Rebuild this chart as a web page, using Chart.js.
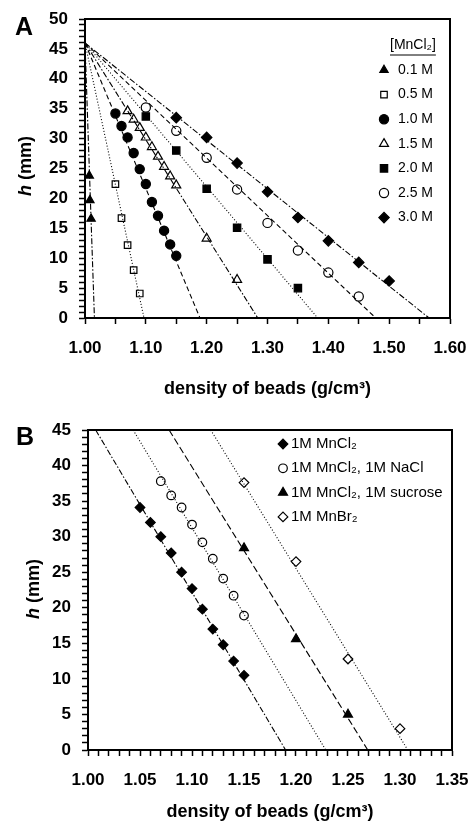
<!DOCTYPE html>
<html>
<head>
<meta charset="utf-8">
<script src="https://cdn.jsdelivr.net/npm/chart.js@4.4.1/dist/chart.umd.min.js"></script>
<style>
  html, body { margin: 0; padding: 0; background: #fff; }
  #page { position: relative; width: 473px; height: 823px; overflow: hidden; font-family: "Liberation Sans", Arial, sans-serif; color: #000; }
  .panel { position: absolute; left: 0; width: 473px; }
  .panel canvas { display: block; }
  .tag { position: absolute; font-weight: bold; font-size: 25px; line-height: 1; transform: translate(-50%, -50%); }
  .ytitle { position: absolute; font-weight: bold; font-size: 18px; line-height: 1; white-space: nowrap; transform: translate(-50%, -50%) rotate(-90deg); }
</style>
</head>
<body>
<div id="page">
  <div class="panel" style="top:0;height:411px"><canvas id="chartA" width="473" height="411"></canvas></div>
  <div class="panel" style="top:411px;height:412px"><canvas id="chartB" width="473" height="412"></canvas></div>
  <div class="tag" style="left:24px;top:26px">A</div>
  <div class="tag" style="left:25px;top:436px">B</div>
  <div class="ytitle" style="left:25px;top:166px"><i>h</i> (mm)</div>
  <div class="ytitle" style="left:33px;top:589px"><i>h</i> (mm)</div>
</div>
<script>
const FONT = '"Liberation Sans", Arial, sans-serif';

// panel A: bead density vs height, by MnCl2 concentration
const labelsA = ["0.1 M", "0.5 M", "1.0 M", "1.5 M", "2.0 M", "2.5 M", "3.0 M"];
const x01 = [1.007, 1.008, 1.010];
const h01 = [23.8, 19.7, 16.6];
const x05 = [1.05, 1.06, 1.07, 1.08, 1.09];
const h05 = [22.4, 16.7, 12.2, 8.0, 4.1];
const x10 = [1.05, 1.06, 1.07, 1.08, 1.09, 1.10, 1.11, 1.12, 1.13, 1.14, 1.15];
const h10 = [34.2, 32.1, 30.2, 27.6, 24.9, 22.4, 19.4, 17.1, 14.6, 12.3, 10.4];
const x15 = [1.07, 1.08, 1.09, 1.10, 1.11, 1.12, 1.13, 1.14, 1.15, 1.20, 1.25];
const h15 = [34.6, 33.2, 31.8, 30.2, 28.6, 27.0, 25.3, 23.7, 22.2, 13.3, 6.4];
const x20 = [1.10, 1.15, 1.20, 1.25, 1.30, 1.35];
const h20 = [33.7, 28.0, 21.6, 15.1, 9.8, 5.0];
const x25 = [1.10, 1.15, 1.20, 1.25, 1.30, 1.35, 1.40, 1.45];
const h25 = [35.2, 31.3, 26.8, 21.5, 15.9, 11.3, 7.6, 3.6];
const x30 = [1.15, 1.20, 1.25, 1.30, 1.35, 1.40, 1.45, 1.50];
const h30 = [33.5, 30.2, 25.9, 21.1, 16.8, 12.9, 9.3, 6.2];
// fitted lines: common start, x-intercepts at h = 0
const fitStartA = { x: 1.00, y: 46 };
const fitZeroA = [1.0155, 1.097, 1.189, 1.284, 1.3825, 1.478, 1.5656];

// panel B: 1 M solutions with additives
const labelsB = ["1M MnCl₂", "1M MnCl₂, 1M NaCl", "1M MnCl₂, 1M sucrose", "1M MnBr₂"];
const xB1 = [1.05, 1.06, 1.07, 1.08, 1.09, 1.10, 1.11, 1.12, 1.13, 1.14, 1.15];
const hB1 = [34.1, 32.0, 30.0, 27.7, 25.0, 22.7, 19.8, 17.0, 14.8, 12.5, 10.5];
const xB2 = [1.07, 1.08, 1.09, 1.10, 1.11, 1.12, 1.13, 1.14, 1.15];
const hB2 = [37.8, 35.8, 34.1, 31.7, 29.2, 26.9, 24.1, 21.7, 18.9];
const xB3 = [1.15, 1.20, 1.25];
const hB3 = [28.4, 15.6, 5.0];
const xB4 = [1.15, 1.20, 1.25, 1.30];
const hB4 = [37.6, 26.5, 12.8, 3.0];
// fitted lines: x where they cross the top (h = 45) and the bottom (h = 0)
const fitTopB = [1.0074, 1.0434, 1.078, 1.118];
const fitZeroB = [1.190, 1.2286, 1.269, 1.3075];

const DOTTED = [1, 2];
const DASHED = [5, 3];
const DASHDOT = [6, 2, 1.5, 2];
const LONGDASH = [7, 3];

const toPts = (xs, ys) => xs.map((x, i) => ({ x: x, y: ys[i] }));

function markers(label, xs, ys, style, radius, filled) {
    return {
        label: label,
        data: toPts(xs, ys),
        showLine: false,
        pointStyle: style,
        pointRadius: radius,
        pointHoverRadius: radius,
        pointBackgroundColor: filled ? "#000" : "rgba(0,0,0,0)",
        pointBorderColor: "#000",
        pointBorderWidth: 1.2,
        backgroundColor: filled ? "#000" : "rgba(0,0,0,0)",
        borderColor: "#000",
        borderWidth: 1.2,
        order: 0,
    };
}

function fitLine(p0, p1, dash) {
    return {
        data: [p0, p1],
        showLine: true,
        pointRadius: 0,
        borderColor: "#000",
        borderWidth: 1.1,
        borderDash: dash,
        order: 1,
    };
}

function xAxis(min, max, step, every, height, titlePad) {
    return {
        type: "linear",
        position: "bottom",
        min: min,
        max: max,
        ticks: {
            stepSize: step,
            autoSkip: false,
            maxRotation: 0,
            minRotation: 0,
            padding: 14,
            color: "#000",
            font: { family: FONT, size: 17, weight: "bold" },
            callback: (v) => (Math.round(v * 100) % every === 0 ? v.toFixed(2) : ""),
        },
        grid: { drawOnChartArea: false, tickLength: 6, tickColor: "#000", tickWidth: 1.5 },
        border: { color: "#000", width: 2 },
        title: {
            display: true,
            text: "density of beads (g/cm³)",
            color: "#000",
            font: { family: FONT, size: 18, weight: "bold" },
            padding: { top: 0, bottom: titlePad },
        },
        afterFit: (s) => {
            s.height = height;
            s.paddingLeft = 0;
            s.paddingRight = 0;
        },
    };
}

function yAxis(max, width) {
    return {
        type: "linear",
        min: 0,
        max: max,
        ticks: {
            stepSize: 1,
            autoSkip: false,
            padding: 11,
            color: "#000",
            font: { family: FONT, size: 17, weight: "bold" },
            callback: (v) => (v % 5 === 0 ? v : ""),
        },
        grid: { drawOnChartArea: false, tickLength: 6, tickColor: "#000", tickWidth: 1.5 },
        border: { color: "#000", width: 2 },
        afterFit: (s) => {
            s.width = width;
            s.paddingTop = 0;
            s.paddingBottom = 0;
        },
    };
}

// box round the plot area
const frame = {
    id: "frame",
    beforeDatasetsDraw(chart) {
        const { ctx, chartArea: a } = chart;
        ctx.save();
        ctx.strokeStyle = "#000";
        ctx.lineWidth = 2;
        ctx.strokeRect(a.left, a.top, a.right - a.left, a.bottom - a.top);
        ctx.restore();
    },
};

// legend drawn inside the plot area
const boxLegend = {
    id: "boxLegend",
    afterDatasetsDraw(chart, args, opts) {
        const ctx = chart.ctx;
        ctx.save();
        ctx.fillStyle = "#000";
        ctx.font = opts.size + "px " + FONT;
        ctx.textBaseline = "middle";
        if (opts.title) {
            ctx.fillText(opts.title, opts.titleX, opts.titleY);
            const w = ctx.measureText(opts.title).width;
            ctx.strokeStyle = "#000";
            ctx.lineWidth = 1;
            ctx.beginPath();
            ctx.moveTo(opts.titleX, opts.titleY + 10);
            ctx.lineTo(opts.titleX + w, opts.titleY + 10);
            ctx.stroke();
        }
        let y = opts.y;
        chart.data.datasets.forEach((ds) => {
            if (ds.showLine) return;
            ctx.fillStyle = ds.pointBackgroundColor;
            ctx.strokeStyle = ds.pointBorderColor;
            ctx.lineWidth = ds.pointBorderWidth;
            Chart.helpers.drawPoint(ctx, {
                pointStyle: ds.pointStyle,
                radius: ds.pointRadius,
                borderWidth: ds.pointBorderWidth,
                rotation: 0,
            }, opts.markerX, y);
            ctx.fillStyle = "#000";
            ctx.fillText(ds.label, opts.textX, y);
            y += opts.dy;
        });
        ctx.restore();
    },
};

const commonPlugins = {
    legend: { display: false },
    tooltip: { enabled: false },
};

new Chart(document.getElementById("chartA"), {
    type: "scatter",
    data: {
        datasets: [
            markers(labelsA[0], x01, h01, "triangle", 4.8, true),
            markers(labelsA[1], x05, h05, "rect", 4.6, false),
            markers(labelsA[2], x10, h10, "circle", 4.6, true),
            markers(labelsA[3], x15, h15, "triangle", 5.2, false),
            markers(labelsA[4], x20, h20, "rect", 5.2, true),
            markers(labelsA[5], x25, h25, "circle", 4.6, false),
            markers(labelsA[6], x30, h30, "rectRot", 5.2, true),
            fitLine(fitStartA, { x: fitZeroA[0], y: 0 }, DASHDOT),
            fitLine(fitStartA, { x: fitZeroA[1], y: 0 }, DOTTED),
            fitLine(fitStartA, { x: fitZeroA[2], y: 0 }, DASHED),
            fitLine(fitStartA, { x: fitZeroA[3], y: 0 }, DASHDOT),
            fitLine(fitStartA, { x: fitZeroA[4], y: 0 }, DOTTED),
            fitLine(fitStartA, { x: fitZeroA[5], y: 0 }, DASHED),
            fitLine(fitStartA, { x: fitZeroA[6], y: 0 }, DASHDOT),
        ],
    },
    options: {
        responsive: false,
        animation: false,
        devicePixelRatio: 1,
        layout: { padding: { top: 19, right: 23, left: 0, bottom: 0 } },
        scales: {
            x: xAxis(1.0, 1.6, 0.05, 10, 93, 11),
            y: yAxis(50, 85),
        },
        plugins: {
            ...commonPlugins,
            boxLegend: { size: 14, title: "[MnCl₂]", titleX: 390, titleY: 45, markerX: 384, textX: 398, y: 70, dy: 24.6 },
        },
    },
    plugins: [frame, boxLegend],
});

new Chart(document.getElementById("chartB"), {
    type: "scatter",
    data: {
        datasets: [
            markers(labelsB[0], xB1, hB1, "rectRot", 4.8, true),
            markers(labelsB[1], xB2, hB2, "circle", 4.3, false),
            markers(labelsB[2], xB3, hB3, "triangle", 5.2, true),
            markers(labelsB[3], xB4, hB4, "rectRot", 4.8, false),
            fitLine({ x: fitTopB[0], y: 45 }, { x: fitZeroB[0], y: 0 }, DASHDOT),
            fitLine({ x: fitTopB[1], y: 45 }, { x: fitZeroB[1], y: 0 }, DOTTED),
            fitLine({ x: fitTopB[2], y: 45 }, { x: fitZeroB[2], y: 0 }, LONGDASH),
            fitLine({ x: fitTopB[3], y: 45 }, { x: fitZeroB[3], y: 0 }, DOTTED),
        ],
    },
    options: {
        responsive: false,
        animation: false,
        devicePixelRatio: 1,
        layout: { padding: { top: 19, right: 21, left: 0, bottom: 0 } },
        scales: {
            x: xAxis(1.0, 1.35, 0.01, 5, 73, 0),
            y: yAxis(45, 88),
        },
        plugins: {
            ...commonPlugins,
            boxLegend: { size: 15, markerX: 283, textX: 291, y: 33, dy: 24.3 },
        },
    },
    plugins: [frame, boxLegend],
});
</script>
</body>
</html>
